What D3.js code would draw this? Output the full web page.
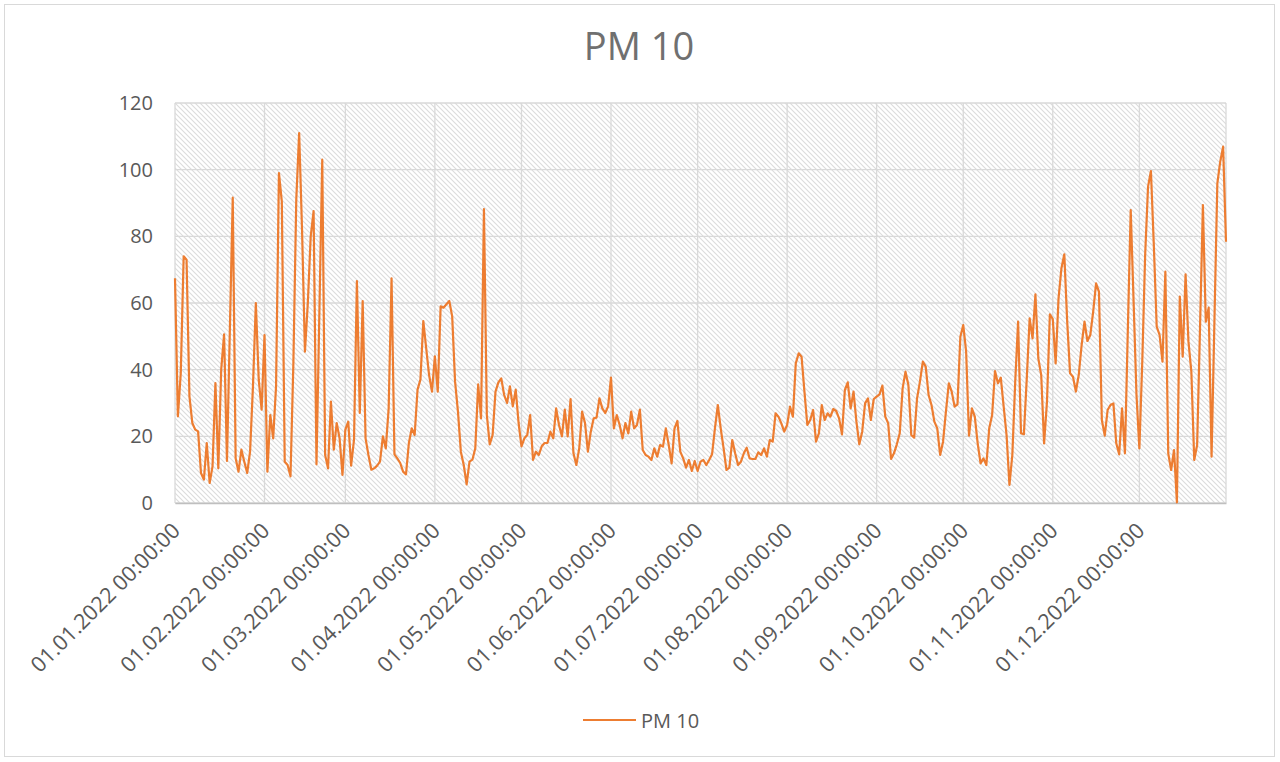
<!DOCTYPE html>
<html>
<head>
<meta charset="utf-8">
<script src="https://cdn.jsdelivr.net/npm/d3@7"></script>
<style>
  body { margin: 0; background: #ffffff; }
  svg { display: block; font-family: "Open Sans", "Liberation Sans", sans-serif; }
</style>
</head>
<body>
<svg id="chart" width="1280" height="762"></svg>
<script>
// Daily PM 10 values, 01.01.2022 .. 31.12.2022
const startDate = "2022-01-01";
const pm10_jan = [67.4, 26, 39, 74, 73, 32, 24, 22, 21.5, 9, 7, 18, 6, 11, 36, 10.4, 40, 50.6, 12.6, 52, 91.6, 13.4, 9.4, 16, 12.4, 9, 15.4, 35, 60, 37, 28];
const pm10_feb = [50.4, 9.4, 26.4, 19.4, 35, 99, 90.4, 12.4, 11.4, 8, 42, 91, 111, 82, 45.4, 60, 80, 87.6, 11.6, 57, 103, 14.4, 10.4, 30.4, 16, 24, 19.4, 8.4];
const pm10_mar = [22, 24.4, 11.2, 19, 66.6, 27, 60.6, 19.4, 14.4, 10, 10.4, 11.2, 12.4, 20, 16.4, 28.4, 67.4, 14.6, 13.4, 12, 9.4, 8.6, 18, 22.4, 20.4, 34, 37, 54.6, 46.4, 38.4, 33.4];
const pm10_apr = [44, 33.4, 59, 58.6, 59.6, 60.6, 56, 36.4, 27.4, 15.4, 11.4, 5.6, 12.4, 13, 16.4, 35.6, 25.4, 88.2, 26.4, 17.6, 20.4, 33.4, 36.2, 37.4, 32.4, 30, 35, 29, 34, 24];
const pm10_may = [17, 19.4, 20.4, 26.4, 12.9, 15.4, 14.4, 17, 18, 18, 21.4, 19.4, 28.4, 23.4, 20, 28, 20, 31.2, 14.9, 11.4, 16.4, 27.4, 24, 15.4, 21.4, 25.4, 25.6, 31.4, 28.4, 27, 29];
const pm10_jun = [37.6, 22.4, 26.4, 23.4, 19.4, 24, 20.9, 27.4, 22.4, 23.4, 28, 15.9, 14.4, 13.9, 12.9, 16.4, 13.9, 17.4, 16.9, 22.4, 17.4, 11.9, 22.4, 24.6, 15.4, 13.4, 10.6, 12.9, 9.6, 12.6];
const pm10_jul = [9.6, 12.4, 12.9, 11.4, 12.9, 14.6, 22.4, 29.4, 22.4, 16.4, 9.9, 10.6, 18.9, 14.9, 11.4, 12.4, 14.9, 16.6, 13.4, 13.2, 13.2, 15.2, 14.4, 16.4, 13.9, 18.9, 18.4, 26.9, 25.9, 23.9, 21.4];
const pm10_aug = [23.4, 28.9, 25.9, 41.9, 44.9, 43.9, 33.4, 23.4, 24.9, 27.9, 18.4, 20.9, 29.4, 24.9, 26.9, 25.9, 28.2, 27.6, 25.4, 20.6, 33.9, 36.2, 28.4, 33.4, 24.4, 17.6, 21.4, 29.9, 31.4, 24.9, 31.2];
const pm10_sep = [31.9, 32.6, 35.2, 25.9, 23.9, 13.2, 14.9, 17.6, 20.9, 34.4, 39.4, 35.4, 20.4, 19.6, 31.4, 36.4, 42.4, 40.9, 32.4, 29.4, 24.4, 22.4, 14.4, 18.4, 27.4, 35.9, 33.4, 28.9, 29.6, 49.9];
const pm10_oct = [53.4, 45.4, 20.2, 28.4, 25.9, 17.9, 11.9, 13.4, 11.4, 22.4, 26.4, 39.6, 35.9, 37.6, 28.9, 20.4, 5.4, 14.4, 36.4, 54.4, 20.9, 20.6, 37.4, 55.4, 49.4, 62.6, 43.4, 38.4, 17.9, 30.4, 56.6];
const pm10_nov = [55.2, 41.9, 61.4, 70.4, 74.6, 54.4, 38.9, 37.9, 33.4, 38.4, 47.4, 54.4, 48.6, 50.4, 57.4, 65.9, 63.4, 24.9, 20.2, 27.9, 29.4, 29.9, 17.9, 14.6, 28.4, 14.9, 52, 87.9, 60.4, 32.4];
const pm10_dec = [16.4, 42.4, 74.4, 94.9, 99.6, 77.4, 52.9, 50.4, 42.4, 69.4, 14.9, 9.9, 15.9, 0.2, 61.9, 43.9, 68.6, 48.4, 39.4, 12.9, 17.4, 52.4, 89.4, 54.4, 58.6, 13.9, 55, 95.9, 102.4, 106.9, 78.4];

const pm10 = [].concat(pm10_jan, pm10_feb, pm10_mar, pm10_apr, pm10_may, pm10_jun,
                       pm10_jul, pm10_aug, pm10_sep, pm10_oct, pm10_nov, pm10_dec);

// Axis labels
const monthTicks = ["01.01.2022 00:00:00", "01.02.2022 00:00:00", "01.03.2022 00:00:00", "01.04.2022 00:00:00",
                    "01.05.2022 00:00:00", "01.06.2022 00:00:00", "01.07.2022 00:00:00", "01.08.2022 00:00:00",
                    "01.09.2022 00:00:00", "01.10.2022 00:00:00", "01.11.2022 00:00:00", "01.12.2022 00:00:00"];
const yTicks = [0, 20, 40, 60, 80, 100, 120];
const seriesName = "PM 10";
const chartTitle = "PM 10";

const parseDay = d3.timeParse("%Y-%m-%d");
const parseTick = d3.timeParse("%d.%m.%Y %H:%M:%S");
const day0 = parseDay(startDate);
const data = pm10.map((v, i) => ({ date: d3.timeDay.offset(day0, i), value: v }));

const margin = { top: 103, right: 54, bottom: 259, left: 175 },
      width = 1280 - margin.left - margin.right,
      height = 762 - margin.top - margin.bottom;

const textColor = "#595959";
const svg = d3.select("#chart");

// outer chart border
svg.append("rect")
   .attr("x", 4.5).attr("y", 4.5)
   .attr("width", 1270).attr("height", 752)
   .attr("fill", "#ffffff")
   .attr("stroke", "#d9d9d9")
   .attr("stroke-width", 1);

// hatch pattern for plot area
const defs = svg.append("defs");
const pat = defs.append("pattern")
   .attr("id", "hatch")
   .attr("patternUnits", "userSpaceOnUse")
   .attr("width", 5).attr("height", 5);
pat.append("rect").attr("width", 5).attr("height", 5).attr("fill", "#ffffff");
pat.append("path")
   .attr("d", "M-1,-1 L6,6 M4,-1 L6,1 M-1,4 L1,6")
   .attr("stroke", "#dcdcdc")
   .attr("stroke-width", 1.1);

// title
svg.append("text")
   .attr("x", 639).attr("y", 60)
   .attr("text-anchor", "middle")
   .style("font-size", "38px")
   .style("fill", "#707070")
   .text(chartTitle);

const g = svg.append("g")
   .attr("transform", "translate(" + margin.left + "," + margin.top + ")");

// scales
const x = d3.scaleTime()
   .domain(d3.extent(data, d => d.date))
   .range([0, width]);

const y = d3.scaleLinear()
   .domain([0, 120])
   .range([height, 0]);

g.append("rect")
   .attr("width", width).attr("height", height)
   .attr("fill", "url(#hatch)");

// horizontal grid
g.append("g")
   .selectAll("line")
   .data(yTicks)
   .enter().append("line")
     .attr("x1", 0).attr("x2", width)
     .attr("y1", d => y(d)).attr("y2", d => y(d))
     .attr("stroke", "#d9d9d9")
     .attr("stroke-width", 1.3);

// vertical grid at month starts
const tickDates = monthTicks.map(t => parseTick(t));
g.append("g")
   .selectAll("line")
   .data(tickDates.concat([x.domain()[1]]))
   .enter().append("line")
     .attr("x1", d => x(d)).attr("x2", d => x(d))
     .attr("y1", 0).attr("y2", height)
     .attr("stroke", "#d9d9d9")
     .attr("stroke-width", 1.3);

// Y axis labels
const yAxis = g.append("g")
   .call(d3.axisLeft(y).tickValues(yTicks).tickSize(0).tickPadding(22));
yAxis.select(".domain").remove();
yAxis.selectAll("text")
   .style("font-size", "20px")
   .style("fill", textColor)
   .style("font-family", "'Open Sans', sans-serif");

// X axis
const xAxis = g.append("g")
   .attr("transform", `translate(0, ${height})`)
   .call(d3.axisBottom(x).tickValues(tickDates).tickSize(0).tickFormat((d, i) => monthTicks[i]));
xAxis.select(".domain")
   .attr("stroke", "#bfbfbf")
   .attr("stroke-width", 1.5);
xAxis.selectAll("text")
   .style("text-anchor", "end")
   .style("font-size", "21.5px")
   .style("fill", textColor)
   .style("font-family", "'Open Sans', sans-serif")
   .attr("y", 0)
   .attr("dy", 0)
   .attr("transform", "translate(6,29) rotate(-45)");

// the line
const line = d3.line()
   .x(d => x(d.date))
   .y(d => y(d.value));

g.append("path")
   .datum(data)
   .attr("fill", "none")
   .attr("stroke", "#ed7d31")
   .attr("stroke-width", 2.2)
   .attr("stroke-linejoin", "round")
   .attr("d", line);

// legend
const legend = svg.append("g")
   .attr("transform", "translate(583,720)");
legend.append("line")
   .attr("x1", 0).attr("x2", 53)
   .attr("y1", 0).attr("y2", 0)
   .attr("stroke", "#ed7d31")
   .attr("stroke-width", 2.2);
legend.append("text")
   .attr("x", 58).attr("y", 7.5)
   .style("font-size", "20px")
   .style("fill", textColor)
   .text(seriesName);
</script>
</body>
</html>
